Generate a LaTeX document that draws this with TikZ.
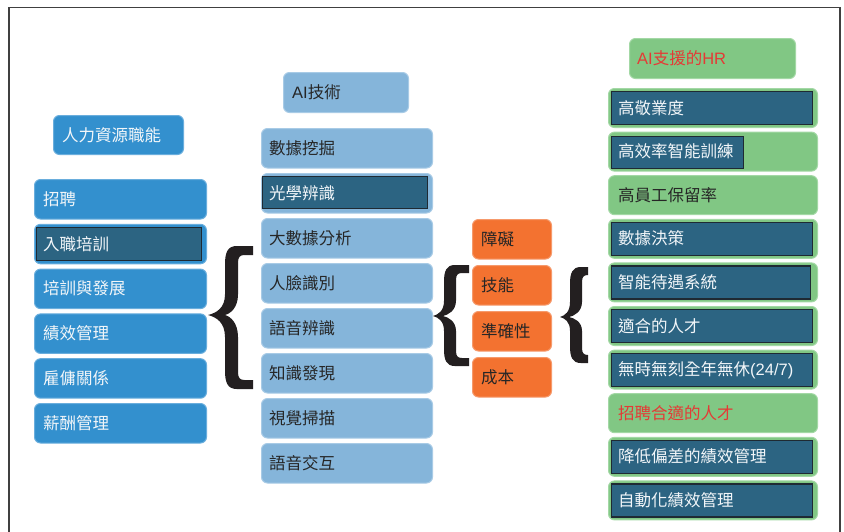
\documentclass[tikz,border=0pt]{standalone}
\usepackage{fontspec}
\setmainfont{Noto Sans CJK TC}
\newfontfamily\lat{Liberation Sans}
\definecolor{cL}{HTML}{3390CE}
\definecolor{cLe}{HTML}{6AAEDD}
\definecolor{cM}{HTML}{85B5DA}
\definecolor{cMe}{HTML}{A8CBE6}
\definecolor{cO}{HTML}{F37230}
\definecolor{cOe}{HTML}{F69A6C}
\definecolor{cG}{HTML}{81C784}
\definecolor{cGe}{HTML}{A3D8A5}
\definecolor{cD}{HTML}{2C6482}
\definecolor{cDe}{HTML}{1F2A33}
\definecolor{cW}{HTML}{F2F6F9}
\definecolor{cK}{HTML}{262626}
\definecolor{cR}{HTML}{E53935}
\definecolor{cB}{HTML}{231F20}
\definecolor{cF}{HTML}{404040}
\newcommand\mybrace[9]{%
 \begin{scope}[shift={(#1,#2)}]
 \fill[bracefill] (#5,-#6) -- ({#3+0.9*#4},-#6) .. controls ({#3+0.2*#4},-#6) and (#3,{-#6+0.5*#4}) .. (#3,{-#6+1.4*#4}) -- (#3,{-0.3*#6}) .. controls (#3,{-0.1*#6}) and ({0.5*#3},{-0.03*#6}) .. (0,0) .. controls ({0.5*#3},{0.03*#7}) and (#3,{0.1*#7}) .. (#3,{0.3*#7}) -- (#3,{#7-1.4*#4}) .. controls (#3,{#7-0.5*#4}) and ({#3+0.2*#4},#7) .. ({#3+0.9*#4},#7) -- (#5,#7) -- (#5,{#7-#8}) -- ({#3+1.5*#4},{#7-#8}) .. controls ({#3+1.15*#4},{#7-#8}) and ({#3+#4},{#7-#8-0.15*#4}) .. ({#3+#4},{#7-#8-0.6*#4}) -- ({#3+#4},{0.3*#7}) .. controls ({#3+#4},{0.1*#7}) and ({#9+0.4*#4},{0.02*#7}) .. (#9,0) .. controls ({#9+0.4*#4},{-0.02*#6}) and ({#3+#4},{-0.1*#6}) .. ({#3+#4},{-0.3*#6}) -- ({#3+#4},{-#6+#8+0.6*#4}) .. controls ({#3+#4},{-#6+#8+0.15*#4}) and ({#3+1.15*#4},{-#6+#8}) .. ({#3+1.5*#4},{-#6+#8}) -- (#5,{-#6+#8}) -- cycle;
 \end{scope}}
\begin{document}
\begin{tikzpicture}[x=1pt,y=-1pt,
  box/.style={rectangle, rounded corners=6pt, inner sep=0pt, anchor=north west, line width=1pt},
  lbox/.style={box, fill=cL, draw=cLe, minimum width=172pt, minimum height=39.5pt},
  mbox/.style={box, fill=cM, draw=cMe, minimum width=171pt, minimum height=39.5pt},
  obox/.style={box, fill=cO, draw=cOe, minimum width=79pt, minimum height=39.5pt},
  gbox/.style={box, fill=cG, draw=cGe, minimum width=209pt, minimum height=39pt},
  dbox/.style={rectangle, anchor=north west, inner sep=0pt, fill=cD, draw=cDe, line width=1.2pt},
  txt/.style={anchor=west, inner sep=0pt, text height=13.4pt, text depth=1.2pt, font=\fontsize{16.5}{20}\selectfont},
  wtxt/.style={txt, text=cW},
  ktxt/.style={txt, text=cK},
  rtxt/.style={txt, text=cR},
  bracefill/.style={fill=cB},
  frameline/.style={draw=cF, line width=1.3pt}
]
\useasboundingbox (0,0) rectangle (844,531);
\fill[white] (0,0) rectangle (844,531);
\draw[frameline] (9,532) -- (9,7.5) -- (840,7.5) -- (840,532);

% left column
\node[lbox, minimum width=130pt, minimum height=39pt] (LT) at (53,115) {};
\node[wtxt] (LTt) at ([xshift=9pt]LT.west) {人力資源職能};
\foreach \t [count=\i from 0] in {招聘,入職培訓,培訓與發展,績效管理,雇傭關係,薪酬管理} {
  \node[lbox] (L\i) at (34,{179+44.8*\i}) {};
}
\node[dbox, minimum width=165pt, minimum height=33pt] (L1d) at (36,227) {};
\foreach \t [count=\i from 0] in {招聘,入職培訓,培訓與發展,績效管理,雇傭關係,薪酬管理} {
  \node[wtxt] (L\i t) at ([xshift=9pt]L\i.west) {\t};
}

% middle column
\node[mbox, minimum width=125pt, minimum height=40pt] (MT) at (283,72) {};
\node[ktxt] (MTt) at ([xshift=9pt]MT.west) {{\lat AI}技術};
\foreach \t [count=\i from 0] in {數據挖掘,光學辨識,大數據分析,人臉識別,語音辨識,知識發現,視覺掃描,語音交互} {
  \node[mbox] (M\i) at (261,{128+45*\i}) {};
}
\node[dbox, minimum width=165pt, minimum height=32pt] (M1d) at (262,176) {};
\node[ktxt] (M0t) at ([xshift=8pt]M0.west) {數據挖掘};
\node[wtxt] (M1t) at ([xshift=8pt]M1.west) {光學辨識};
\foreach \t [count=\i from 2] in {大數據分析,人臉識別,語音辨識,知識發現,視覺掃描,語音交互} {
  \node[ktxt] (M\i t) at ([xshift=8pt]M\i.west) {\t};
}

% orange column
\foreach \t [count=\i from 0] in {障礙,技能,準確性,成本} {
  \node[obox] (O\i) at (472,{219+46*\i}) {};
  \node[ktxt] (O\i t) at ([xshift=9pt]O\i.west) {\t};
}

% right column
\node[gbox, minimum width=166pt, minimum height=40pt] (RT) at (629,38) {};
\node[rtxt] (RTt) at ([xshift=8pt]RT.west) {{\lat AI}支援的{\lat HR}};
\foreach \i in {0,...,9} {
  \node[gbox] (R\i) at (608,{88+43.6*\i}) {};
}
\node[dbox, minimum width=201pt, minimum height=33pt] (R0d) at (611,91) {};
\node[dbox, minimum width=132pt, minimum height=32pt] (R1d) at (611,136) {};
\node[dbox, minimum width=201pt, minimum height=33pt] (R3d) at (611,221.8) {};
\node[dbox, minimum width=199pt, minimum height=33pt] (R4d) at (611,265.4) {};
\node[dbox, minimum width=201pt, minimum height=33pt] (R5d) at (611,309) {};
\node[dbox, minimum width=201pt, minimum height=33pt] (R6d) at (611,352.6) {};
\node[dbox, minimum width=201pt, minimum height=33pt] (R8d) at (611,439.8) {};
\node[dbox, minimum width=201pt, minimum height=33pt] (R9d) at (611,483.4) {};
\node[wtxt] (R0t) at ([xshift=10pt]R0.west) {高敬業度};
\node[wtxt] (R1t) at ([xshift=10pt]R1.west) {高效率智能訓練};
\node[ktxt] (R2t) at ([xshift=10pt]R2.west) {高員工保留率};
\node[wtxt] (R3t) at ([xshift=10pt]R3.west) {數據決策};
\node[wtxt] (R4t) at ([xshift=10pt]R4.west) {智能待遇系統};
\node[wtxt] (R5t) at ([xshift=10pt]R5.west) {適合的人才};
\node[wtxt] (R6t) at ([xshift=10pt]R6.west) {無時無刻全年無休{\lat (24/7)}};
\node[rtxt] (R7t) at ([xshift=10pt]R7.west) {招聘合適的人才};
\node[wtxt] (R8t) at ([xshift=10pt]R8.west) {降低偏差的績效管理};
\node[wtxt] (R9t) at ([xshift=10pt]R9.west) {自動化績效管理};

% braces
\mybrace{208}{315}{17}{13}{45}{69}{74}{9}{17}
\mybrace{433}{316}{11}{12}{36}{51}{50}{8}{10}
\mybrace{560}{317}{10}{12}{28}{50}{46}{8}{9}
\end{tikzpicture}
\end{document}
